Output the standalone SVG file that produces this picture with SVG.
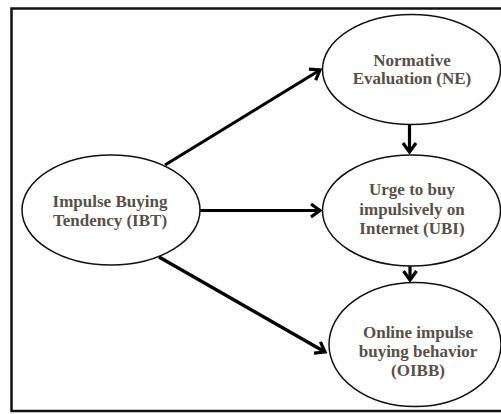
<svg xmlns="http://www.w3.org/2000/svg" width="501" height="414" viewBox="0 0 501 414">
<style>
.frame{fill:#fff;stroke:#111;stroke-width:2.5}
.node ellipse{fill:#fff;stroke:#111;stroke-width:1.5}
.node text{font-family:"Liberation Serif","Times New Roman",serif;font-weight:bold;font-size:17px;fill:#595048;text-anchor:middle}
.edge{stroke:#000;stroke-width:3.2;fill:none;marker-end:url(#arr)}
</style>
<defs>
<marker id="arr" markerUnits="userSpaceOnUse" markerWidth="20" markerHeight="20" viewBox="-16 -10 20 20" refX="0" refY="0" orient="auto">
<path d="M-9,-6.5 L0,0 L-9,6.5" fill="none" stroke="#000" stroke-width="3.2" stroke-linejoin="miter" stroke-linecap="butt"/>
</marker>
</defs>
<rect class="frame" x="11.5" y="8.5" width="510" height="402.5"/>
<g id="connectors">
<line class="edge" x1="165" y1="165" x2="320" y2="70"/>
<line class="edge" x1="200" y1="210.5" x2="320" y2="210.5"/>
<line class="edge" x1="159" y1="257" x2="325" y2="352"/>
<line class="edge" x1="409.5" y1="124.5" x2="409.5" y2="152"/>
<line class="edge" x1="410" y1="266" x2="410" y2="280"/>
</g>
<g id="IBT" class="node">
<ellipse cx="111" cy="210" rx="89" ry="55"/>
<text x="110" y="207">Impulse Buying</text>
<text x="110" y="226">Tendency (IBT)</text>
</g>
<g id="NE" class="node">
<ellipse cx="411.5" cy="69.5" rx="89" ry="55"/>
<text x="412" y="66">Normative</text>
<text x="412" y="84">Evaluation (NE)</text>
</g>
<g id="UBI" class="node">
<ellipse cx="411.5" cy="210.5" rx="89" ry="55.5"/>
<text x="412" y="195">Urge to buy</text>
<text x="412" y="215">impulsively on</text>
<text x="412" y="234">Internet (UBI)</text>
</g>
<g id="OIBB" class="node">
<ellipse cx="415" cy="344.5" rx="86" ry="62"/>
<text x="418" y="338">Online impulse</text>
<text x="418" y="357">buying behavior</text>
<text x="418" y="376">(OIBB)</text>
</g>
</svg>
